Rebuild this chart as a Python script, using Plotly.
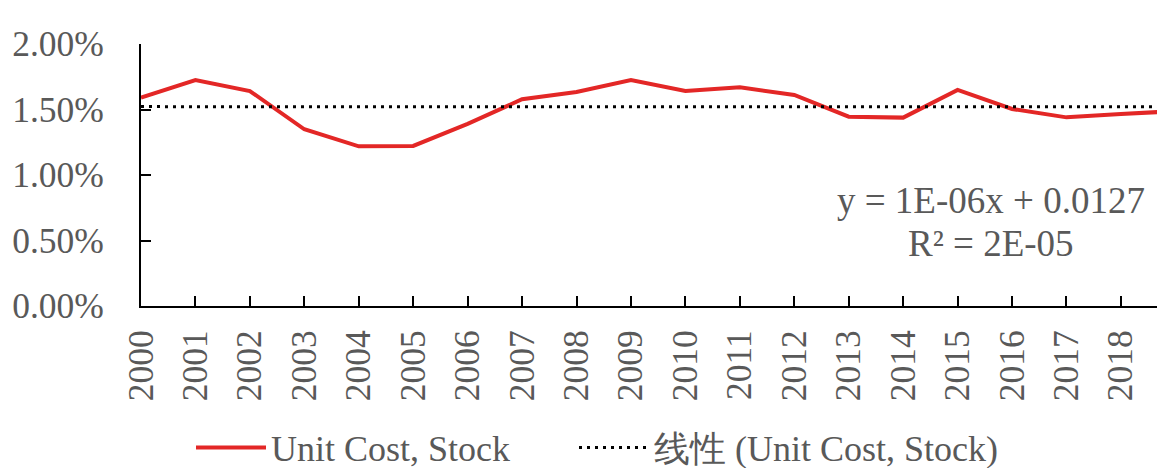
import numpy as np
import plotly.graph_objects as go

years = list(range(2000, 2020))
unit_cost = [1.590, 1.725, 1.641, 1.349, 1.219, 1.222, 1.390, 1.578, 1.634, 1.725,
             1.641, 1.669, 1.611, 1.445, 1.438, 1.649, 1.504, 1.440, 1.466, 1.487]
unit_cost = [v / 100 for v in unit_cost]
series_name = "Unit Cost, Stock"
trend_name = "线性 (Unit Cost, Stock)"
eq_lines = ["y = 1E-06x + 0.0127", "R² = 2E-05"]

coef = np.polyfit(years, unit_cost, 1)
trend = np.polyval(coef, years)

FONT = "Liberation Serif, Times New Roman, serif"
GRAY = "#595959"

fig = go.Figure()
fig.add_trace(go.Scatter(x=years, y=unit_cost, mode="lines", name=series_name,
                         line=dict(color="#E32726", width=4), legend="legend"))
fig.add_trace(go.Scatter(x=years, y=trend, mode="lines", name=trend_name,
                         line=dict(color="#000000", width=3, dash="3px,5px"),
                         legend="legend2"))

PW = 1040  # plot width in px
for txt, yy in zip(eq_lines, [0.401, 0.240]):
    fig.add_annotation(x=850 / PW, y=yy, xref="paper", yref="paper", text=txt,
                       showarrow=False, align="center", xanchor="center", yanchor="middle",
                       font=dict(family=FONT, size=37, color=GRAY))

leg_common = dict(orientation="h", xref="paper", xanchor="left",
                  y=-0.54, yref="paper", yanchor="middle", itemwidth=70,
                  font=dict(family=FONT, size=36, color=GRAY), itemsizing="trace",
                  bgcolor="rgba(0,0,0,0)")

# page body has an 8px margin, so the figure is offset by 8px
fig.update_layout(
    width=1173, height=460,
    margin=dict(l=133, r=0, t=36, b=162, autoexpand=False),
    paper_bgcolor="white", plot_bgcolor="white",
    font=dict(family=FONT, size=35.5, color=GRAY),
    showlegend=True,
    legend=dict(x=50 / PW, **leg_common),
    legend2=dict(x=433 / PW, **leg_common),
    xaxis=dict(range=[2000, 2000 + PW / 54.44], tickmode="array", tickvals=years,
               ticktext=[str(y) for y in years], tickangle=-90, automargin=False,
               ticklabelstandoff=8,
               showline=True, linecolor="black", linewidth=2,
               ticks="inside", ticklen=10, tickcolor="black", tickwidth=2,
               showgrid=False, zeroline=False,
               tickfont=dict(family=FONT, size=35.5, color=GRAY)),
    yaxis=dict(range=[0, 0.02], tickvals=[0, 0.005, 0.01, 0.015, 0.02],
               tickformat=".2%", automargin=False, ticklabelstandoff=28,
               showline=True, linecolor="black", linewidth=2,
               ticks="inside", ticklen=10, tickcolor="black", tickwidth=2,
               showgrid=False, zeroline=False,
               tickfont=dict(family=FONT, size=35.5, color=GRAY)),
)

fig.write_html("out.html")
